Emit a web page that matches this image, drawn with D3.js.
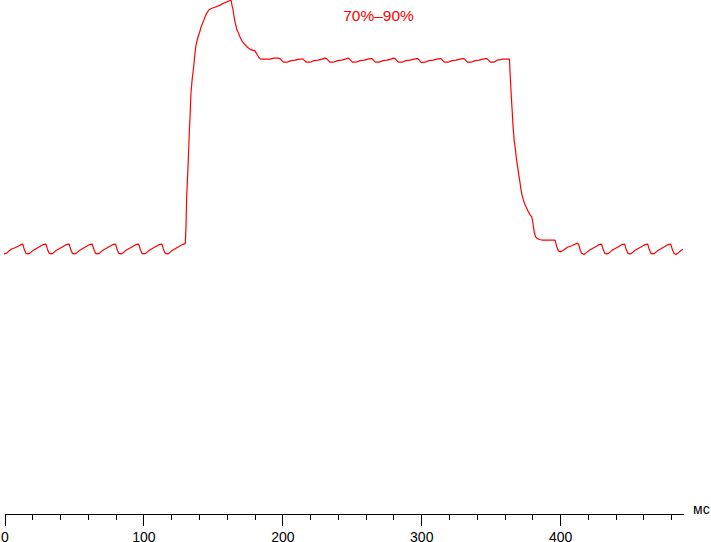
<!DOCTYPE html>
<html>
<head>
<meta charset="utf-8">
<title>70%–90%</title>
<script src="https://cdn.jsdelivr.net/npm/d3@7"></script>
<style>
  body { margin: 0; background: #fff; }
  svg { display: block; }
  .tick text { font-family: "Liberation Sans", Arial, sans-serif; }
</style>
</head>
<body>
<div id="chart"></div>
<script>
// chart title and axis unit
var chartTitle = "70%–90%";
var unitLabel = "мс";

// time axis: major (labelled) and minor ticks, ms
var majorTicks = [0, 100, 200, 300, 400];
var minorTicks = [20, 40, 60, 80, 120, 140, 160, 180, 220, 240, 260, 280,
  320, 340, 360, 380, 420, 440, 460, 480];

// trace: [time ms, level % of peak]
// steady 70% level with the 60 Hz ripple
var before = [
  [0, 50.6], [2.2, 50.8], [3.6, 51.2], [5.8, 51.6], [7.9, 51.8], [10.1, 52.1], [12.2, 52.4],
  [13.5, 52.5], [14.7, 51.4], [15.9, 50.7], [17.1, 50.6], [18.5, 50.7], [20.5, 51.2], [23.0, 51.6], [25.5, 52.0], [28.0, 52.4],
  [30.2, 52.5], [31.4, 51.4], [32.6, 50.7], [33.8, 50.6], [35.2, 50.7], [37.2, 51.2], [39.7, 51.6], [42.2, 52.0], [44.7, 52.4],
  [46.9, 52.5], [48.1, 51.4], [49.3, 50.7], [50.5, 50.6], [51.9, 50.7], [53.9, 51.2], [56.4, 51.6], [58.9, 52.0], [61.4, 52.4],
  [63.6, 52.5], [64.8, 51.4], [66.0, 50.7], [67.2, 50.6], [68.6, 50.7], [70.6, 51.2], [73.1, 51.6], [75.6, 52.0], [78.1, 52.4],
  [80.3, 52.5], [81.5, 51.4], [82.7, 50.7], [83.9, 50.6], [85.3, 50.7], [87.3, 51.2], [89.8, 51.6], [92.3, 52.0], [94.8, 52.4],
  [97.0, 52.5], [98.2, 51.4], [99.4, 50.7], [100.6, 50.6], [102.0, 50.7], [104.0, 51.2], [106.5, 51.6], [109.0, 52.0], [111.5, 52.4],
  [113.7, 52.5], [114.9, 51.4], [116.1, 50.7], [117.3, 50.6], [118.7, 50.7], [120.7, 51.2], [123.2, 51.6], [125.7, 52.0], [128.2, 52.4],
  [130.4, 52.6]
];

// switch to 90%: rise with overshoot
var rise = [
  [130.5, 52.6], [131.0, 55.8], [131.5, 61.7], [132.3, 66.5], [133.0, 71.2], [133.4, 74.3],
  [133.9, 77.2], [134.6, 81.9], [135.4, 84.4], [136.1, 86.0], [136.8, 87.7], [137.5, 89.7],
  [138.2, 91.2], [139.7, 92.8], [140.9, 93.8], [141.8, 94.7], [143.3, 95.7], [144.7, 96.7],
  [146.1, 97.5], [147.6, 98.1], [149.7, 98.4], [151.9, 98.6], [155.5, 99.0], [159.1, 99.5],
  [162.0, 99.8], [163.4, 100], [164.1, 99.0], [164.9, 98.1], [165.6, 96.7], [166.3, 95.7],
  [167.7, 94.2], [168.8, 93.6], [169.9, 92.8], [171.1, 92.1], [172.8, 91.5], [174.9, 90.9],
  [177.1, 90.4], [180.7, 90.1], [182.4, 89.3], [183.8, 88.7], [184.8, 88.5], [191.7, 88.5],
  [194.1, 88.7], [197.3, 88.7]
];

// steady 90% level
var plateau = [
  [198.7, 88.6], [201.1, 87.9], [203.6, 87.9], [206.6, 88.2], [209.5, 88.3], [212.4, 88.5], [214.0, 88.5],
  [215.3, 88.5], [217.7, 87.9], [220.3, 87.9], [223.2, 88.2], [226.1, 88.3], [229.0, 88.5], [231.0, 88.7],
  [232.2, 88.6], [234.6, 87.9], [237.2, 87.9], [240.1, 88.2], [243.0, 88.3], [245.9, 88.5], [247.6, 88.7],
  [248.4, 88.6], [250.8, 87.9], [253.4, 87.9], [256.3, 88.2], [259.2, 88.3], [262.1, 88.5], [264.0, 88.6],
  [264.9, 88.6], [267.3, 87.9], [269.9, 87.9], [272.8, 88.2], [275.7, 88.3], [278.6, 88.5], [280.5, 88.7],
  [281.5, 88.6], [283.9, 87.9], [286.5, 87.9], [289.4, 88.2], [292.3, 88.3], [295.2, 88.5], [297.0, 88.6],
  [298.0, 88.6], [300.4, 87.8], [303.0, 87.9], [305.9, 88.2], [308.8, 88.3], [311.7, 88.5], [313.6, 88.6],
  [314.6, 88.6], [317.0, 87.9], [319.6, 87.9], [322.5, 88.2], [325.4, 88.3], [328.3, 88.5], [330.2, 88.6],
  [331.2, 88.6], [333.6, 87.9], [336.2, 87.9], [339.1, 88.2], [342.0, 88.3], [344.9, 88.5], [346.7, 88.6],
  [347.7, 88.6], [350.1, 87.9], [352.7, 87.9], [354.9, 88.3], [357.5, 88.4], [359.2, 88.5], [363.9, 88.5]
];

// switch back to 70%
var fall = [
  [364.3, 85.8], [365.0, 82.3], [365.7, 79.0], [366.4, 75.7], [367.2, 72.8], [367.9, 71.5],
  [368.6, 69.8], [369.3, 68.3], [370.1, 66.9], [370.8, 65.6], [371.5, 64.4], [372.2, 63.0],
  [372.9, 62.1], [373.9, 61.1], [375.1, 60.1], [376.3, 59.5], [377.5, 58.8], [378.7, 58.2],
  [379.9, 57.8], [380.6, 56.9], [381.1, 55.9], [381.8, 54.7], [382.8, 53.9], [383.9, 53.6],
  [385.4, 53.4], [387.1, 53.3], [396.7, 53.3]
];

// 70% level again
var after = [
  [397.9, 52.0], [399.1, 51.2], [400.8, 51.0], [403.2, 51.4], [405.5, 51.9], [408.7, 52.2], [412.7, 52.7],
  [413.7, 52.5], [414.7, 51.4], [415.9, 50.7], [417.6, 50.5], [419.5, 50.9], [421.9, 51.4], [423.9, 51.7], [426.0, 52.0], [428.2, 52.4],
  [430.2, 52.5], [431.4, 51.4], [432.6, 50.7], [433.8, 50.6], [435.2, 50.7], [437.2, 51.2], [439.7, 51.6], [442.2, 52.0], [444.7, 52.4],
  [446.8, 52.5], [448.0, 51.4], [449.2, 50.7], [450.4, 50.6], [451.8, 50.7], [453.8, 51.2], [456.3, 51.6], [458.8, 52.0], [461.3, 52.4],
  [463.4, 52.5], [464.6, 51.4], [465.8, 50.7], [467.0, 50.6], [468.4, 50.7], [470.4, 51.2], [472.9, 51.6], [475.4, 52.0], [477.9, 52.4],
  [480.0, 52.5], [481.2, 51.4], [482.4, 50.7], [483.6, 50.5], [485.0, 50.7], [487.0, 51.2], [488.8, 51.5]
];

var trace = before.concat(rise, plateau, fall, after);

// svg size
var svgWidth = 711;
var svgHeight = 542;

var svg = d3.select("#chart")
  .append("svg")
  .attr("width", svgWidth)
  .attr("height", svgHeight);

// scales: the time axis runs 0..488.8 ms, level 0..100% of the peak
var xScale = d3.scaleLinear()
  .domain([0, 488.8])
  .range([4, 683]);

var yScale = d3.scaleLinear()
  .domain([0, 100])
  .range([514, 0]);

var axisY = 514.5;

// bottom axis with long labelled ticks
var majorAxis = d3.axisBottom(xScale)
  .tickValues(majorTicks)
  .tickSize(11)
  .tickSizeOuter(0)
  .tickPadding(6);

var majorGroup = svg.append("g")
  .attr("transform", `translate(0.5, ${axisY})`)
  .call(majorAxis);

majorGroup.select(".domain")
  .attr("d", `M${xScale.range()[0]},0H${xScale.range()[1]}`)
  .attr("stroke", "#000")
  .attr("shape-rendering", "crispEdges");

majorGroup.selectAll(".tick line")
  .attr("stroke", "#000")
  .attr("shape-rendering", "crispEdges");

majorGroup.selectAll(".tick text")
  .attr("y", null)
  .attr("dy", null)
  .attr("transform", `translate(0, ${542 - axisY})`)
  .style("font-size", "14px")
  .attr("fill", "#000");

// short minor ticks
var minorAxis = d3.axisBottom(xScale)
  .tickValues(minorTicks)
  .tickSize(5)
  .tickSizeOuter(0)
  .tickFormat("");

var minorGroup = svg.append("g")
  .attr("transform", `translate(0.5, ${axisY})`)
  .call(minorAxis);

minorGroup.select(".domain").remove();
minorGroup.selectAll(".tick line")
  .attr("stroke", "#000")
  .attr("shape-rendering", "crispEdges");

// unit at the end of the axis
svg.append("text")
  .attr("x", 693)
  .attr("y", 514)
  .style("font-family", "'Liberation Sans', Arial, sans-serif")
  .style("font-size", "14px")
  .attr("fill", "#000")
  .text(unitLabel);

// title
svg.append("text")
  .attr("x", 378.5)
  .attr("y", 21)
  .attr("text-anchor", "middle")
  .style("font-family", "'Liberation Sans', Arial, sans-serif")
  .style("font-size", "15.5px")
  .attr("fill", "#ff0000")
  .text(chartTitle);

// the trace
var line = d3.line()
  .x(d => xScale(d[0]))
  .y(d => yScale(d[1]));

svg.append("path")
  .datum(trace)
  .attr("d", line)
  .attr("fill", "none")
  .attr("stroke", "#ff0000")
  .attr("stroke-width", 1.2)
  .attr("stroke-linejoin", "round");
</script>
</body>
</html>
